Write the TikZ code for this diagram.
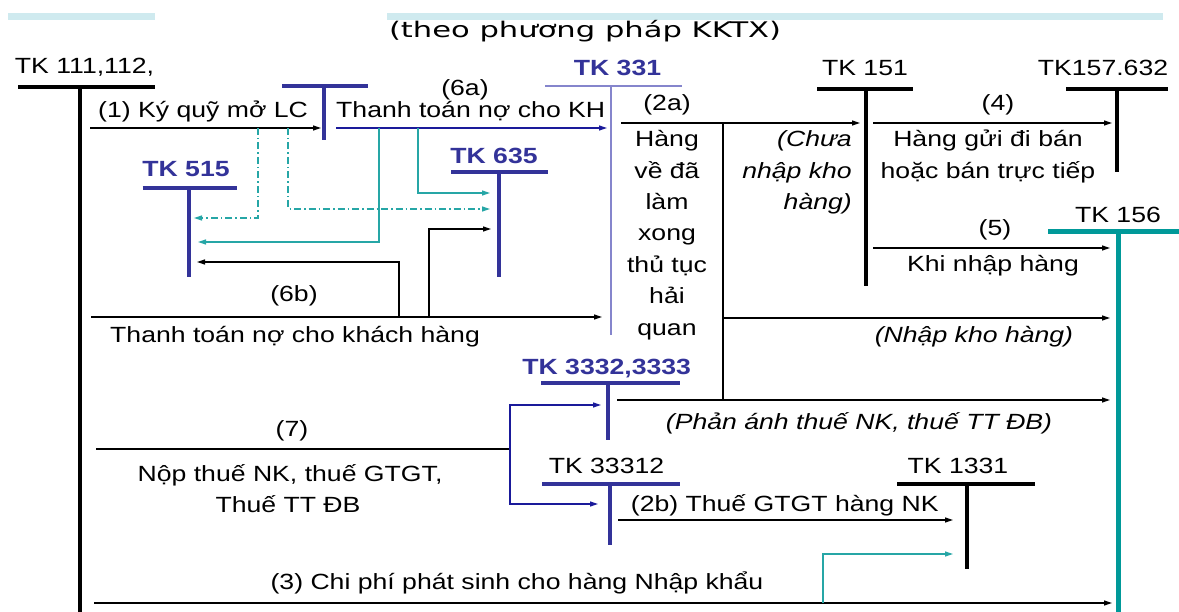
\documentclass[tikz,border=0pt]{standalone}
\usepackage{fontspec}
\setmainfont{Liberation Sans}[FakeStretch=1.21]
\newfontfamily\titlefont{DejaVu Sans}
\usetikzlibrary{arrows.meta,calc}

\definecolor{acctblue}{HTML}{333399}
\definecolor{navyline}{HTML}{1A1A9A}
\definecolor{tealthick}{HTML}{009999}
\definecolor{tealthin}{HTML}{26A6A6}
\definecolor{lavender}{HTML}{8585CC}
\definecolor{barcyan}{HTML}{CFEAEF}

\tikzset{
  tbar/.style={line width=3.6pt},
  bluebar/.style={line width=3.6pt, draw=acctblue},
  tealbar/.style={line width=5pt, draw=tealthick},
  thinbar/.style={line width=1.8pt, draw=lavender},
  tip/.style={-{Triangle[length=8pt,width=5pt]}},
  arr/.style={line width=1.2pt, tip},
  navyarr/.style={arr, draw=navyline, -{Triangle[length=8pt,width=5pt,fill=navyline]}},
  tealarr/.style={arr, draw=tealthin},
  ddarr/.style={tealarr, dash pattern=on 7pt off 3pt on 1.5pt off 3pt},
  plain/.style={line width=1.2pt},
  txt/.style={inner sep=0pt, anchor=base, font=\fontsize{22}{31.4}\selectfont},
  itxt/.style={txt, font=\fontsize{22}{31.4}\selectfont\itshape},
  btxt/.style={txt, text=acctblue, font=\fontsize{22}{31.4}\selectfont\bfseries},
}

\begin{document}
\begin{tikzpicture}[x=1pt, y=-1pt]
\useasboundingbox (0,0) rectangle (1179,612);

% heading strip and title
\fill[barcyan] (8,13) rectangle (155,20);
\fill[barcyan] (387,13) rectangle (1163,20);
\node[inner sep=0pt, anchor=base] (title) at (585,38)
  {\resizebox{392pt}{\height}{\titlefont\fontsize{21.5}{24}\selectfont (theo phương pháp KKTX)}};

% ---------- T accounts ----------
% TK 111,112
\coordinate (t111) at (80,87);
\node[txt] (l111) at (84.5,74) {TK 111,112,};
\draw[tbar] (18,87) -- (155,87);
\draw[tbar] (t111) -- (80,612);

% letter of credit deposit account
\coordinate (tLC) at (324,86);
\draw[bluebar] (282,86) -- (368,86);
\draw[bluebar] (tLC) -- (324,140);

% TK 331
\coordinate (t331) at (611,86);
\node[btxt] (l331) at (617.5,76) {TK 331};
\draw[thinbar] (545,86) -- (682,86);
\draw[thinbar] (t331) -- (611,335);

% TK 151
\coordinate (t151) at (866,89);
\node[txt] (l151) at (865,76) {TK 151};
\draw[tbar] (817,89) -- (913,89);
\draw[tbar] (t151) -- (866,286);

% TK 157.632
\coordinate (t157) at (1117,89);
\node[txt] (l157) at (1103,76) {TK157.632};
\draw[tbar] (1066,89) -- (1168,89);
\draw[tbar] (t157) -- (1117,172);

% TK 156
\coordinate (t156) at (1118,232);
\node[txt] (l156) at (1118,223) {TK 156};
\draw[tealbar] (1048,232) -- (1179,232);
\draw[tealbar] (t156) -- (1118,612);

% TK 515
\coordinate (t515) at (189,188);
\node[btxt] (l515) at (186,176.7) {TK 515};
\draw[bluebar] (142.5,188) -- (237,188);
\draw[bluebar] (t515) -- (189,277);

% TK 635
\coordinate (t635) at (499,172);
\node[btxt] (l635) at (494,164) {TK 635};
\draw[bluebar] (451,172) -- (548,172);
\draw[bluebar] (t635) -- (499,277);

% TK 3332,3333
\coordinate (t3332) at (608,383);
\node[btxt] (l3332) at (606.7,375) {TK 3332,3333};
\draw[bluebar] (541,383) -- (680,383);
\draw[bluebar] (t3332) -- (608,440);

% TK 33312
\coordinate (t33312) at (610,484);
\node[txt] (l33312) at (606.5,474) {TK 33312};
\draw[bluebar] (542,484) -- (680,484);
\draw[bluebar] (t33312) -- (610,545);

% TK 1331
\coordinate (t1331) at (967,484);
\node[txt] (l1331) at (958,474) {TK 1331};
\draw[tbar] (897,484) -- (1035,484);
\draw[tbar] (t1331) -- (967,569);

% ---------- entries ----------
% (1) deposit for the letter of credit
\draw[arr, shorten <=10pt, shorten >=3pt] (t111 |- 0,128) -- (tLC |- 0,128);
\node[txt, anchor=base west] (e1) at (98,118) {(1) Ký quỹ mở LC};

% (6a) payment to the customer
\draw[navyarr, shorten <=12pt, shorten >=4pt] (tLC |- 0,128) -- (t331 |- 0,128);
\node[txt] (e6a) at (465,96) {(6a)};
\node[txt, anchor=base west] (e6at) at (336,118) {Thanh toán nợ cho KH};

% branches towards TK 515 and TK 635
\coordinate (d1) at (258,128);
\coordinate (d2) at (288,128);
\coordinate (g1) at (379,128);
\coordinate (g2) at (418,128);
\draw[ddarr, shorten >=5pt] (d1) |- (t515 |- 0,218);
\draw[ddarr, shorten >=9pt] (d2) |- (t635 |- 0,209);
\draw[tealarr, shorten >=9pt] (g1) |- (t515 |- 0,242);
\draw[tealarr, shorten >=9pt] (g2) |- (t635 |- 0,193);

% (6b) payment to customers
\draw[arr, shorten <=11pt, shorten >=9pt] (t111 |- 0,317) -- (t331 |- 0,317);
\node[txt] (e6b) at (294,302) {(6b)};
\node[txt, anchor=base west] (e6bt) at (110,343) {Thanh toán nợ cho khách hàng};
\coordinate (b1) at (399,317);
\coordinate (b2) at (429,317);
\draw[arr, shorten >=8pt] (b1) |- (t515 |- 0,262);
\draw[arr, shorten >=8pt] (b2) |- (t635 |- 0,229);

% (2a) goods arrived
\draw[arr, shorten <=10pt, shorten >=6pt] (t331 |- 0,123) -- (t151 |- 0,123);
\node[txt] (e2a) at (667,111) {(2a)};
\coordinate (s1) at (723,123);
\coordinate (s2) at (723,400);
\draw[plain] (s1) -- (s2);
\foreach \t [count=\i from 0] in {Hàng, về đã, làm, xong, thủ tục, hải, quan}
  \node[txt] (hang\i) at (667,{146.7+31.4*\i}) {\t};
\node[itxt, anchor=base east] (chua0) at (852,146.7) {(Chưa};
\node[itxt, anchor=base east] (chua1) at (852,178.1) {nhập kho};
\node[itxt, anchor=base east] (chua2) at (852,209.5) {hàng)};

% (4) goods sent for sale
\draw[arr, shorten <=7pt, shorten >=5pt] (t151 |- 0,123) -- (t157 |- 0,123);
\node[txt] (e4) at (998,111) {(4)};
\node[txt] (e4a) at (988,146.7) {Hàng gửi đi bán};
\node[txt] (e4b) at (988,178.1) {hoặc bán trực tiếp};

% (5) goods received into stock
\draw[arr, shorten <=7pt, shorten >=8pt] (t151 |- 0,248) -- (t156 |- 0,248);
\node[txt] (e5) at (995,236) {(5)};
\node[txt] (e5t) at (993,272) {Khi nhập hàng};

% direct receipt into stock
\draw[arr, shorten >=8pt] (s1 |- 0,318) -- (t156 |- 0,318);
\node[itxt] (enk) at (974,343) {(Nhập kho hàng)};

% import duties
\draw[arr, shorten <=9pt, shorten >=8pt] (t3332 |- 0,400) -- (t156 |- 0,400);
\node[itxt] (epa) at (859,429) {(Phản ánh thuế NK, thuế TT ĐB)};

% (7) tax payment
\coordinate (j7) at (510,449);
\draw[plain, shorten <=16pt] (t111 |- j7) -- (j7);
\draw[navyarr, shorten >=7pt] (j7) |- (t3332 |- 0,405);
\draw[navyarr, shorten >=12pt] (j7) |- (t33312 |- 0,504);
\node[txt] (e7) at (292,437) {(7)};
\node[txt] (e7a) at (290,481) {Nộp thuế NK, thuế GTGT,};
\node[txt] (e7b) at (288,512) {Thuế TT ĐB};

% (2b) VAT on imports
\draw[arr, shorten <=8pt, shorten >=14pt] (t33312 |- 0,520) -- (t1331 |- 0,520);
\node[txt, anchor=base west] (e2b) at (630.7,511.7) {(2b) Thuế GTGT hàng NK};

% (3) import costs
\draw[arr, shorten <=14pt, shorten >=6pt] (t111 |- 0,603) -- (t156 |- 0,603);
\node[txt] (e3) at (517,589) {(3) Chi phí phát sinh cho hàng Nhập khẩu};
\coordinate (c3) at (823,603);
\draw[tealarr, shorten >=14pt] (c3) |- (t1331 |- 0,554);

\end{tikzpicture}
\end{document}
